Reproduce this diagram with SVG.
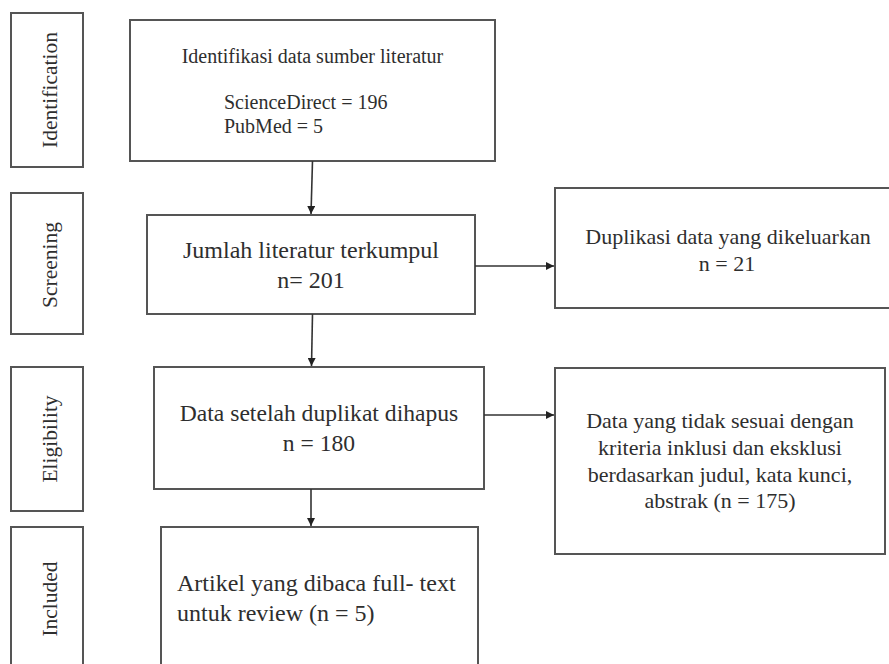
<svg xmlns="http://www.w3.org/2000/svg" width="889" height="664" viewBox="0 0 889 664">
<defs>
<style>
.box{fill:#fff;stroke:#555;stroke-width:2}
.t{font-family:"Liberation Serif","Times New Roman",serif;fill:#2e2e2e}
.c{text-anchor:middle}
.side{font-size:21.5px}
.edge{stroke:#333;stroke-width:1.6;fill:none;marker-end:url(#ah)}
</style>
<marker id="ah" markerUnits="userSpaceOnUse" markerWidth="9" markerHeight="8" refX="8" refY="4" orient="auto">
<path d="M0,0 L8,4 L0,8 Z" fill="#222"/>
</marker>
</defs>
<rect width="889" height="664" fill="#fff"/>

<g id="side-identification">
<rect class="box" x="11" y="13" width="72" height="154"/>
<text class="t c side" transform="translate(57,90) rotate(-90)">Identification</text>
</g>
<g id="side-screening">
<rect class="box" x="11" y="193" width="72" height="141"/>
<text class="t c side" transform="translate(57,265) rotate(-90)">Screening</text>
</g>
<g id="side-eligibility">
<rect class="box" x="11" y="367" width="72" height="144"/>
<text class="t c side" transform="translate(57,439) rotate(-90)">Eligibility</text>
</g>
<g id="side-included">
<rect class="box" x="11" y="527" width="72" height="150"/>
<text class="t c side" transform="translate(57,599) rotate(-90)">Included</text>
</g>

<g id="identifikasi">
<rect class="box" x="130" y="20" width="365" height="141"/>
<text class="t c" x="312.5" y="63" font-size="20">Identifikasi data sumber literatur</text>
<text class="t" x="224" y="109" font-size="20">ScienceDirect = 196</text>
<text class="t" x="224" y="133" font-size="20">PubMed = 5</text>
</g>

<g id="jumlah">
<rect class="box" x="147" y="215" width="328" height="99"/>
<text class="t c" x="311" y="258" font-size="24">Jumlah literatur terkumpul</text>
<text class="t c" x="311" y="288" font-size="24">n= 201</text>
</g>

<g id="duplikasi">
<rect class="box" x="555" y="188" width="345" height="120"/>
<text class="t c" x="728" y="244" font-size="22">Duplikasi data yang dikeluarkan</text>
<text class="t c" x="727" y="271" font-size="22">n = 21</text>
</g>

<g id="setelah">
<rect class="box" x="154" y="367" width="330" height="122"/>
<text class="t c" x="319" y="421" font-size="23.6">Data setelah duplikat dihapus</text>
<text class="t c" x="319" y="451" font-size="23.6">n = 180</text>
</g>

<g id="tidak-sesuai">
<rect class="box" x="555" y="368" width="330" height="186"/>
<text class="t c" x="720" y="428" font-size="22">Data yang tidak sesuai dengan</text>
<text class="t c" x="720" y="455" font-size="22">kriteria inklusi dan eksklusi</text>
<text class="t c" x="720" y="482" font-size="22">berdasarkan judul, kata kunci,</text>
<text class="t c" x="720" y="508" font-size="22">abstrak (n = 175)</text>
</g>

<g id="artikel">
<rect class="box" x="161" y="527" width="317" height="150"/>
<text class="t" x="177" y="591" font-size="24">Artikel yang dibaca full- text</text>
<text class="t" x="177" y="621" font-size="24">untuk review (n = 5)</text>
</g>

<g id="connectors">
<path class="edge" d="M312.5,161 L311,214"/>
<path class="edge" d="M312.5,314 L311.5,366"/>
<path class="edge" d="M311,489 L311,526"/>
<path class="edge" d="M475,266 L554,266"/>
<path class="edge" d="M484,415 L554,415"/>
</g>
</svg>
